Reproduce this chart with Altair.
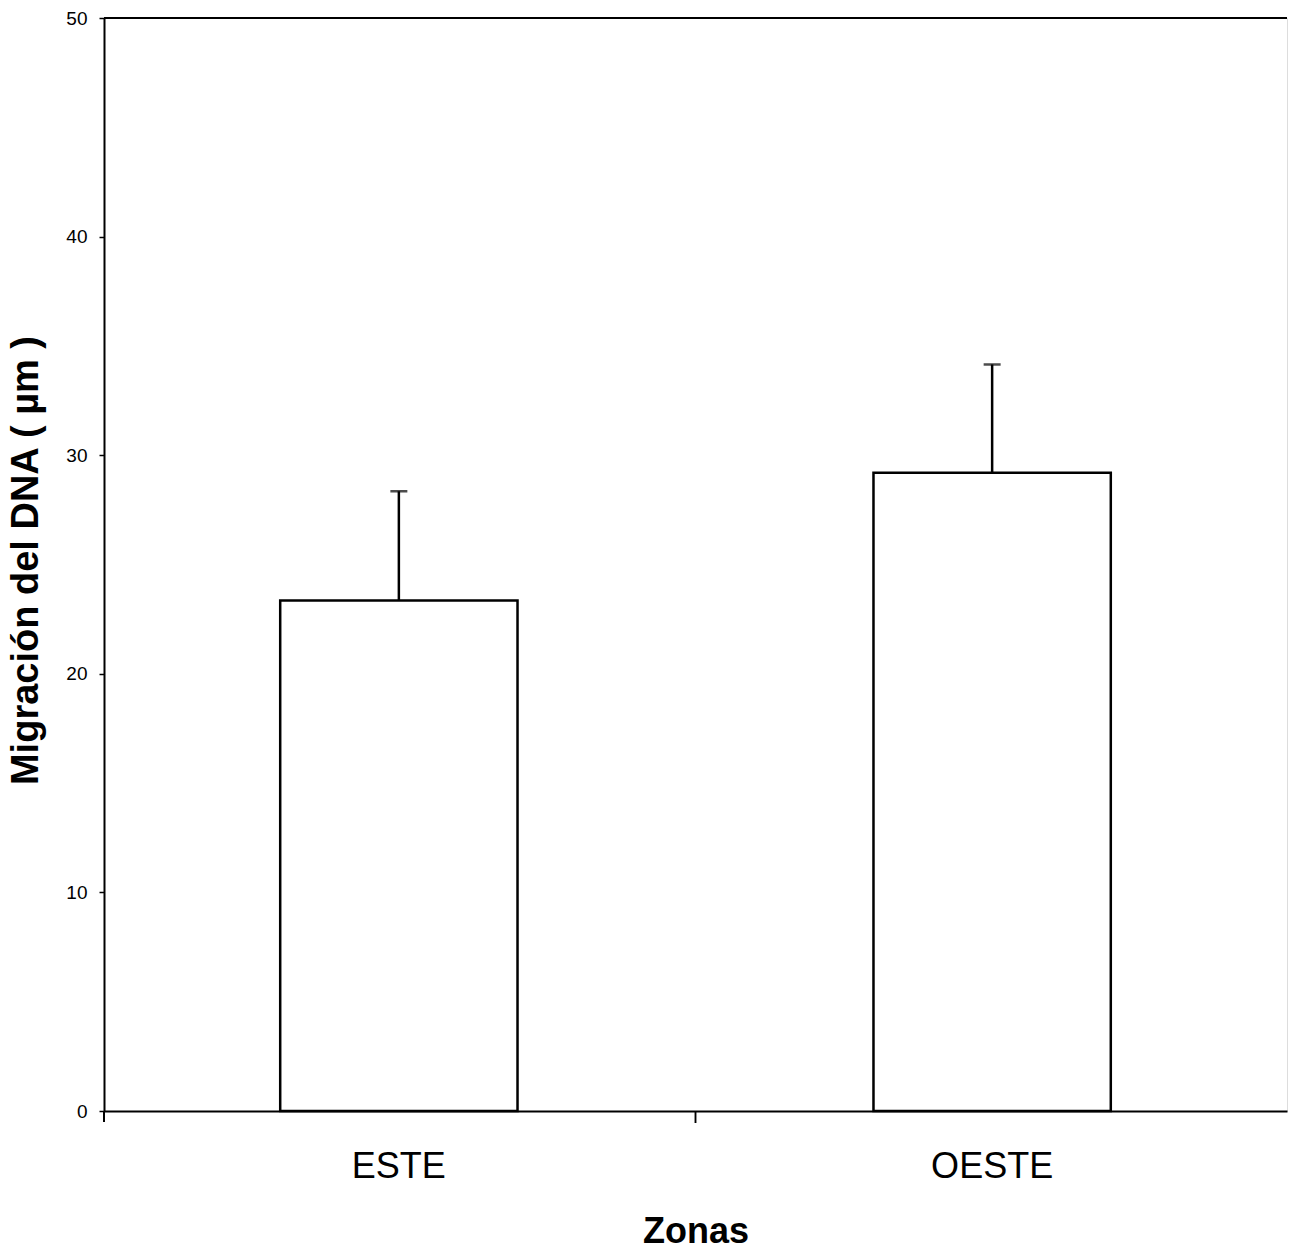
import altair as alt
import pandas as pd

zonas = ["ESTE", "OESTE"]
medias = [23.35, 29.2]
errores = [5.0, 4.95]

df = pd.DataFrame({"zona": zonas, "media": medias, "err": errores})
df["sup"] = df["media"] + df["err"]

W, H = 1183, 1093

xenc = alt.X("zona:N", sort=zonas, title="Zonas",
             scale=alt.Scale(paddingInner=0.6, paddingOuter=0.297),
             axis=alt.Axis(labelAngle=0, labelFontSize=36, labelFont="Liberation Sans",
                           labelColor="black", labelPadding=38, ticks=False,
                           domainColor="black", domainWidth=2,
                           titleFontSize=36, titleFont="Liberation Sans", titleFontWeight="bold",
                           titleColor="black", titlePadding=30))
yscale = alt.Scale(domain=[0, 50], nice=False)
yaxis = alt.Axis(values=[0, 10, 20, 30, 40, 50], labelFontSize=19, labelFont="Liberation Sans",
                 labelColor="black", labelPadding=12, tickSize=5, tickColor="black", tickWidth=1.5,
                 domainColor="black", domainWidth=2, grid=False,
                 titleFontSize=38, titleFont="Liberation Sans", titleFontWeight="bold",
                 titleColor="black", titlePadding=20, titleY=542)

base = alt.Chart(df)

bars = base.mark_bar(fill="white", stroke="black", strokeWidth=2.5).encode(
    x=xenc,
    y=alt.Y("media:Q", scale=yscale, axis=yaxis, title="Migración del DNA ( µm )"),
)
err = base.mark_rule(color="black", strokeWidth=2.5).encode(
    x=alt.X("zona:N", sort=zonas), y="media:Q", y2="sup:Q"
)
cap = base.mark_tick(color="black", size=17, thickness=2.5, orient="horizontal").encode(
    x=alt.X("zona:N", sort=zonas), y="sup:Q"
)
top = alt.Chart(df).mark_rule(color="black", strokeWidth=2).encode(
    x=alt.value(0), x2=alt.value(W), y=alt.value(0)
)
midtick = alt.Chart(df).mark_rule(color="black", strokeWidth=1.5).encode(
    x=alt.value(W / 2), y=alt.value(H), y2=alt.value(H + 12)
)
yext = alt.Chart(df).mark_rule(color="black", strokeWidth=2).encode(
    x=alt.value(0), y=alt.value(H), y2=alt.value(H + 11)
)

chart = alt.layer(bars, err, cap, top, midtick, yext).properties(
    width=W, height=H,
    autosize=alt.AutoSizeParams(type="none"),
    padding={"left": 104, "top": 18, "right": 2, "bottom": 139},
).configure_view(stroke="#cccccc", strokeWidth=1).configure(background="white")

chart.save("out.html", embed_options={"renderer": "svg", "actions": False})
